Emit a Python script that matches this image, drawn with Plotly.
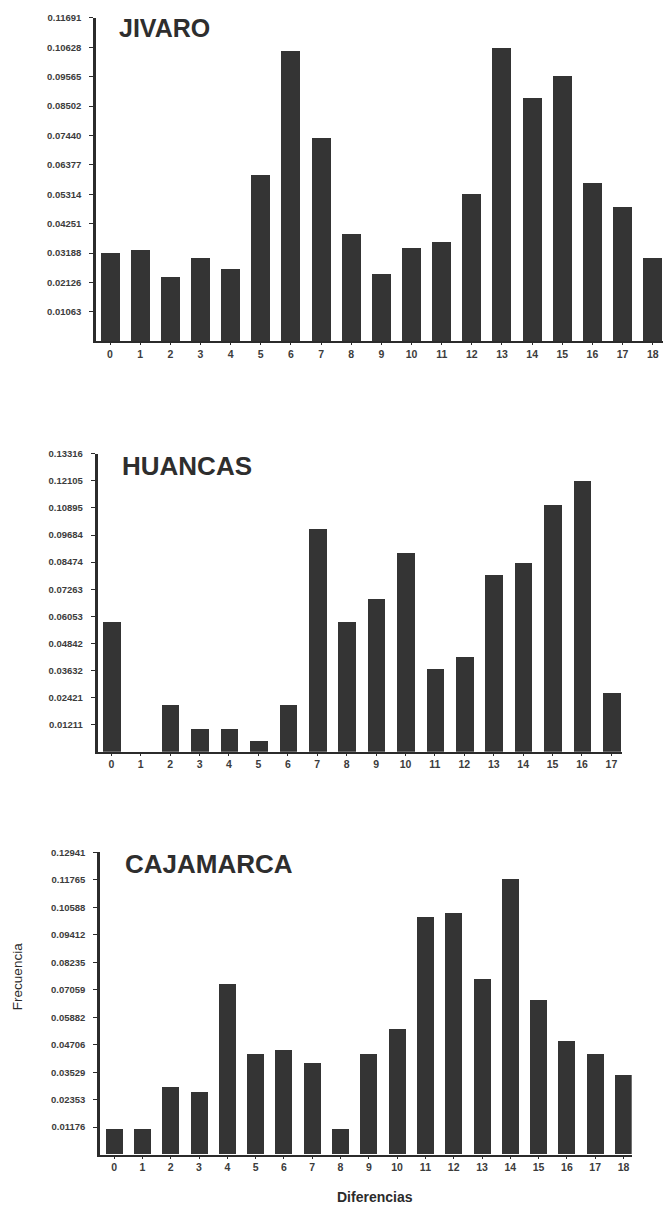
import plotly.graph_objects as go

# Frequency of pairwise differences for three populations
jivaro_x = list(range(19))
jivaro = [0.0321, 0.0330, 0.0234, 0.0302, 0.0263, 0.0600, 0.1051, 0.0735, 0.0388,
          0.0243, 0.0339, 0.0360, 0.0532, 0.1061, 0.0880, 0.0958, 0.0571, 0.0485, 0.0301]
jivaro_ticks = ["0.01063", "0.02126", "0.03188", "0.04251", "0.05314", "0.06377",
                "0.07440", "0.08502", "0.09565", "0.10628", "0.11691"]

huancas_x = list(range(18))
huancas = [0.0579, 0.0, 0.0208, 0.0105, 0.0105, 0.0050, 0.0208, 0.0995, 0.0579,
           0.0682, 0.0891, 0.0370, 0.0425, 0.0789, 0.0844, 0.1102, 0.1211, 0.0263]
huancas_ticks = ["0.01211", "0.02421", "0.03632", "0.04842", "0.06053", "0.07263",
                 "0.08474", "0.09684", "0.10895", "0.12105", "0.13316"]

cajamarca_x = list(range(19))
cajamarca = [0.0107, 0.0107, 0.0286, 0.0267, 0.0730, 0.0428, 0.0445, 0.0391, 0.0107,
             0.0429, 0.0534, 0.1017, 0.1033, 0.0750, 0.1178, 0.0661, 0.0483, 0.0428, 0.0339]
cajamarca_ticks = ["0.01176", "0.02353", "0.03529", "0.04706", "0.05882", "0.07059",
                   "0.08235", "0.09412", "0.10588", "0.11765", "0.12941"]

titles = ["JIVARO", "HUANCAS", "CAJAMARCA"]
x_title = "Diferencias"
y_title = "Frecuencia"

W, H = 663, 1205
BAR = "#343434"
INK = "#2b2b2b"
LABEL = "#3c3c3c"
FONT = "Liberation Sans, Arial, sans-serif"


def px_x(p):
    return p / W


def px_y(p):
    return 1 - p / H


panels = [
    # data, cats, ticks, title, x-pixel span, y-pixel span (bottom, top), x range, bar width, title pos
    dict(v=jivaro, c=jivaro_x, t=jivaro_ticks, name=titles[0], xs=(96, 663), ys=(337, 12),
         xr=[-0.465, 18.34], bw=0.63, tp=(117, 22), ts=25),
    dict(v=huancas, c=huancas_x, t=huancas_ticks, name=titles[1], xs=(97.5, 621.7), ys=(749.5, 450),
         xr=[-0.47, 17.35], bw=0.6, tp=(120, 462), ts=26),
    dict(v=cajamarca, c=cajamarca_x, t=cajamarca_ticks, name=titles[2], xs=(100, 631.7), ys=(1154.3, 850.7),
         xr=[-0.5, 18.29], bw=0.6, tp=(123, 862.5), ts=26),
]

fig = go.Figure()
layout = dict(
    width=W, height=H,
    margin=dict(l=0, r=0, t=0, b=0),
    paper_bgcolor="white", plot_bgcolor="white",
    showlegend=False, bargap=0,
    font=dict(family=FONT, color=INK),
    annotations=[],
)

for i, p in enumerate(panels, start=1):
    xa = "x" if i == 1 else f"x{i}"
    ya = "y" if i == 1 else f"y{i}"
    fig.add_trace(go.Bar(
        x=p["c"], y=p["v"], width=p["bw"], xaxis=xa, yaxis=ya,
        marker=dict(color=BAR, line=dict(width=0)),
        hoverinfo="x+y",
    ))
    tickvals = [float(s) for s in p["t"]]
    top = tickvals[-1]
    layout["xaxis" if i == 1 else f"xaxis{i}"] = dict(
        domain=[px_x(p["xs"][0]), px_x(p["xs"][1])], anchor=ya,
        range=p["xr"], tickvals=p["c"], ticktext=[str(c) for c in p["c"]],
        showline=True, linecolor=INK, linewidth=2.2,
        ticks="outside", ticklen=2, tickwidth=1, tickcolor=INK,
        tickfont=dict(size=10.5, color=LABEL, family=FONT, weight="bold"),
        showgrid=False, zeroline=False, fixedrange=True,
    )
    layout["yaxis" if i == 1 else f"yaxis{i}"] = dict(
        domain=[px_y(p["ys"][0]), px_y(p["ys"][1])], anchor=xa,
        range=[0, top], tickvals=tickvals, ticktext=p["t"],
        showline=True, linecolor=INK, linewidth=2.6,
        ticks="outside", ticklen=4, tickwidth=1.2, tickcolor=INK,
        ticklabelstandoff=6,
        tickfont=dict(size=9.5, color=LABEL, family=FONT, weight="bold"),
        showgrid=False, zeroline=False, fixedrange=True,
    )
    layout["annotations"].append(dict(
        text=f"<b>{p['name']}</b>", xref="paper", yref="paper",
        x=px_x(p["tp"][0]), y=px_y(p["tp"][1]), xanchor="left", yanchor="middle",
        showarrow=False, font=dict(size=p["ts"], color="#2e2e2e", family=FONT),
    ))

layout["annotations"].append(dict(
    text=y_title, xref="paper", yref="paper", x=px_x(17), y=px_y(976),
    xanchor="center", yanchor="middle", textangle=-90, showarrow=False,
    font=dict(size=13.5, color=INK, family=FONT),
))
layout["annotations"].append(dict(
    text=f"<b>{x_title}</b>", xref="paper", yref="paper", x=px_x(375), y=px_y(1197),
    xanchor="center", yanchor="middle", showarrow=False,
    font=dict(size=14, color=INK, family=FONT),
))

fig.update_layout(**layout)
fig.write_html("out.html")
